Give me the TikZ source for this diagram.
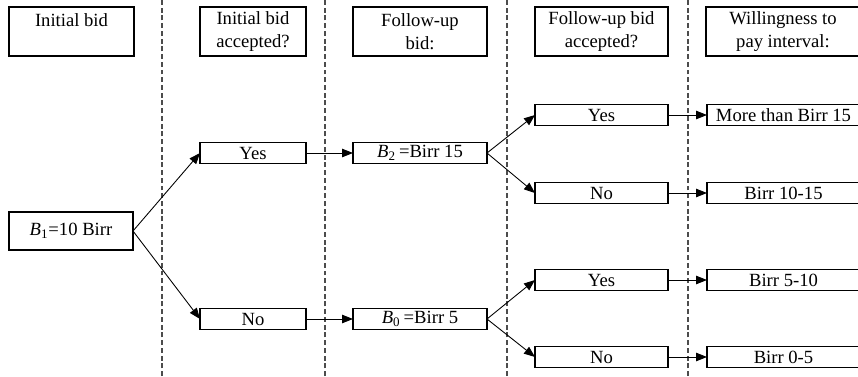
\documentclass[tikz,border=0pt]{standalone}
\usepackage{fontspec}
\setmainfont{Liberation Serif}
\usetikzlibrary{arrows.meta,positioning}

\begin{document}
\begin{tikzpicture}[
	>={Triangle[length=0.22cm,width=0.17cm]},
	header/.style={
		rectangle,
		draw,
		line width=0.6pt,
		inner sep=0pt,
		outer sep=0pt,
		align=center,
		minimum height=0.98cm,
		font=\fontsize{10.6}{12.8}\selectfont
	},
	choice/.style={
		rectangle,
		draw,
		line width=0.6pt,
		inner sep=0pt,
		outer sep=0pt,
		align=center,
		minimum height=0.42cm,
		font=\fontsize{10.6}{12.8}\selectfont
	},
	bid/.style={
		choice,
		minimum width=2.68cm
	},
	answer/.style={
		choice,
		minimum width=2.66cm
	},
	wtp/.style={
		choice,
		minimum width=3.06cm
	},
	link/.style={
		->,
		line width=0.5pt
	},
	divider/.style={
		line width=0.6pt,
		black!70,
		dash pattern=on 2.8pt off 1.6pt
	}
	]
	
	\useasboundingbox (0,0) rectangle (17.16,7.52);
	\clip (0,0) rectangle (17.16,7.52);
	
	% -------------------------------------------------------------------------
	% Column dividers
	% -------------------------------------------------------------------------
	
	\draw[divider] (3.24,0) -- (3.24,7.52);
	\draw[divider] (6.50,0) -- (6.50,7.52);
	\draw[divider] (10.14,0) -- (10.14,7.52);
	\draw[divider] (13.76,0) -- (13.76,7.52);
	
	% -------------------------------------------------------------------------
	% Column headers
	% -------------------------------------------------------------------------
	
	\node[header,minimum width=2.50cm] (H1) at (1.43,6.89)
	{Initial bid\\\mbox{}};
	
	\node[header,minimum width=2.12cm] (H2) at (5.06,6.89)
	{Initial bid\\accepted?};
	
	\node[header,minimum width=2.68cm] (H3) at (8.40,6.89)
	{Follow-up\\bid:};
	
	\node[header,minimum width=2.66cm] (H4) at (12.03,6.89)
	{Follow-up bid\\accepted?};
	
	\node[header,minimum width=3.08cm] (H5) at (15.66,6.89)
	{Willingness to\\pay interval:};
	
	% -------------------------------------------------------------------------
	% Bids and answers
	% -------------------------------------------------------------------------
	
	\node[choice,minimum width=2.48cm,minimum height=0.76cm] (B1) at (1.42,2.90)
	{\textit{B}\textsubscript{1}=10 Birr};
	
	\node[choice,minimum width=2.12cm] (YES1) at (5.06,4.46) {Yes};
	\node[choice,minimum width=2.12cm] (NO1) at (5.06,1.14) {No};
	
	\node[bid] (B2) at (8.40,4.46) {\textit{B}\textsubscript{2}\,=Birr 15};
	\node[bid] (B0) at (8.40,1.14) {\textit{B}\textsubscript{0}\,=Birr 5};
	
	\node[answer] (YY) at (12.03,5.22) {Yes};
	\node[answer] (YN) at (12.03,3.66) {No};
	\node[answer] (NY) at (12.03,1.92) {Yes};
	\node[answer] (NN) at (12.03,0.38) {No};
	
	% -------------------------------------------------------------------------
	% Willingness to pay intervals
	% -------------------------------------------------------------------------
	
	\node[wtp] (W1) at (15.67,5.22) {More than Birr 15};
	\node[wtp] (W2) at (15.67,3.66) {Birr 10-15};
	\node[wtp] (W3) at (15.67,1.92) {Birr 5-10};
	\node[wtp] (W4) at (15.67,0.38) {Birr 0-5};
	
	% -------------------------------------------------------------------------
	% Arrows
	% -------------------------------------------------------------------------
	
	\draw[link] (B1.east) -- (YES1.west);
	\draw[link] (B1.east) -- (NO1.west);
	
	\draw[link] (YES1) -- (B2);
	\draw[link] (NO1) -- (B0);
	
	\draw[link] (B2.east) -- (YY.west);
	\draw[link] (B2.east) -- (YN.west);
	\draw[link] (B0.east) -- (NY.west);
	\draw[link] (B0.east) -- (NN.west);
	
	\draw[link] (YY) -- (W1);
	\draw[link] (YN) -- (W2);
	\draw[link] (NY) -- (W3);
	\draw[link] (NN) -- (W4);
	
\end{tikzpicture}
\end{document}
